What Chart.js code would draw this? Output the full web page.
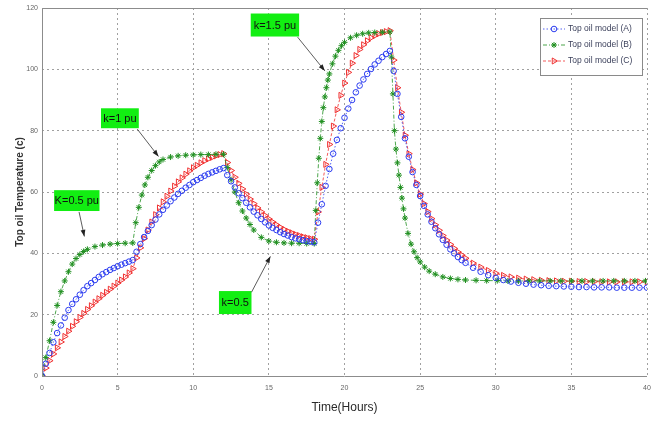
<!DOCTYPE html>
<html>
<head>
<meta charset="utf-8">
<script src="https://cdn.jsdelivr.net/npm/chart.js@4.4.1/dist/chart.umd.min.js"></script>
<style>
  html, body { margin: 0; padding: 0; background: #ffffff; }
  #wrap { width: 652px; height: 421px; }
</style>
</head>
<body>
<div id="wrap"><canvas id="oilChart" width="652" height="421"></canvas></div>
<script>
// time axis shared by model A and model C (hours)
const timeAC = [
  0, 0.25, 0.5, 0.75, 1, 1.25, 1.5, 1.75, 2, 2.25, 2.5, 2.75, 3, 3.25, 3.5, 3.75, 4, 4.25, 4.5, 4.75, 5, 5.25, 5.5, 5.75, 6,
  6.25, 6.5, 6.75, 7, 7.25, 7.5, 7.75, 8, 8.25, 8.5, 8.75, 9, 9.25, 9.5, 9.75, 10, 10.25, 10.5, 10.75, 11, 11.25, 11.5, 11.75, 12,
  12.25, 12.5, 12.75, 13, 13.25, 13.5, 13.75, 14, 14.25, 14.5, 14.75, 15, 15.25, 15.5, 15.75, 16, 16.25, 16.5, 16.75, 17, 17.25, 17.5, 17.75, 18,
  18.25, 18.5, 18.75, 19, 19.25, 19.5, 19.75, 20, 20.25, 20.5, 20.75, 21, 21.25, 21.5, 21.75, 22, 22.25, 22.5, 22.75, 23,
  23.25, 23.5, 23.75, 24, 24.25, 24.5, 24.75, 25, 25.25, 25.5, 25.75, 26, 26.25, 26.5, 26.75, 27, 27.25, 27.5, 27.75, 28,
  28.5, 29, 29.5, 30, 30.5, 31, 31.5, 32, 32.5, 33, 33.5, 34, 34.5, 35, 35.5, 36, 36.5, 37, 37.5, 38, 38.5, 39, 39.5, 40,
];

const tempA = [
  0, 4, 7.5, 11, 14, 16.5, 19, 21.5, 23.5, 25, 26.5, 28, 29.3, 30.3, 31.3, 32.3, 33.2, 33.9, 34.6, 35.2, 35.8, 36.3, 36.8, 37.3, 37.8,
  40.5, 43, 45.3, 47.3, 49.2, 51, 52.7, 54.2, 55.6, 57, 58.2, 59.4, 60.4, 61.4, 62.3, 63.2, 63.9, 64.6, 65.3, 65.9, 66.4, 66.9, 67.4, 67.8,
  65.5, 63.5, 61.5, 59.6, 58, 56.5, 55, 53.6, 52.4, 51.2, 50.1, 49.1, 48.3, 47.6, 46.9, 46.3, 45.8, 45.3, 44.9, 44.6, 44.3, 44, 43.8, 43.6,
  50, 56, 62, 67.5, 72.5, 77, 80.8, 84.2, 87.2, 90, 92.5, 94.7, 96.7, 98.5, 100.1, 101.6, 102.8, 104, 105, 106,
  99.5, 92, 84.5, 77.5, 71.5, 66.5, 62.3, 58.7, 55.5, 52.7, 50.3, 48.2, 46.2, 44.4, 42.8, 41.3, 40, 38.8, 37.8, 36.9,
  35.3, 34, 32.9, 32, 31.3, 30.8, 30.4, 30.1, 29.8, 29.6, 29.4, 29.3, 29.2, 29.1, 29, 29, 28.9, 28.9, 28.9, 28.8, 28.8, 28.8, 28.8, 28.8,
];

const tempC = [
  0, 2.6, 5, 7.2, 9.2, 11.1, 12.9, 14.6, 16.2, 17.7, 19.1, 20.4, 21.7, 22.9, 24.1, 25.2, 26.3, 27.3, 28.3, 29.3, 30.3, 31.3, 32.3, 33.6, 35,
  38.5, 41.8, 44.8, 47.6, 50.2, 52.6, 54.8, 56.8, 58.6, 60.3, 61.9, 63.3, 64.6, 65.8, 66.9, 67.9, 68.7, 69.5, 70.2, 70.8, 71.3, 71.8, 72.2, 72.5,
  69.6, 67, 64.8, 62.8, 61, 59.3, 57.7, 56.2, 54.8, 53.5, 52.3, 51.2, 50.2, 49.3, 48.5, 47.8, 47.2, 46.7, 46.2, 45.8, 45.4, 45.1, 44.8, 44.6,
  53.5, 61.5, 69, 75.5, 81.5, 86.8, 91.5, 95.5, 99, 102, 104.5, 106.5, 108, 109.3, 110.3, 111, 111.6, 112, 112.3, 112.6,
  103, 94, 86, 78.5, 72.5, 67.3, 63, 59.3, 56.2, 53.6, 51.3, 49.3, 47.5, 45.8, 44.3, 42.9, 41.6, 40.4, 39.4, 38.4,
  36.8, 35.5, 34.4, 33.5, 32.8, 32.3, 31.9, 31.6, 31.4, 31.2, 31.1, 31, 30.9, 30.9, 30.8, 30.8, 30.8, 30.7, 30.7, 30.7, 30.7, 30.7, 30.7, 30.7,
];

// model B has its own (uneven) time steps
const timeB = [
  0, 0.25, 0.5, 0.75, 1, 1.25, 1.5, 1.75, 2, 2.25, 2.5, 2.75, 3, 3.5, 4, 4.5, 5, 5.5, 6,
  6.2, 6.4, 6.6, 6.8, 7, 7.25, 7.5, 7.75, 8, 8.5, 9, 9.5, 10, 10.5, 11, 11.5, 12,
  12.25, 12.5, 12.75, 13, 13.25, 13.5, 13.75, 14, 14.5, 15, 15.5, 16, 16.5, 17, 17.5, 18,
  18.1, 18.2, 18.3, 18.4, 18.5, 18.6, 18.7, 18.8, 18.9, 19, 19.2, 19.4, 19.6, 19.8, 20, 20.4, 20.8, 21.2, 21.6, 22, 22.5, 23,
  23.1, 23.2, 23.3, 23.4, 23.5, 23.6, 23.7, 23.8, 23.9, 24, 24.2, 24.4, 24.6, 24.8, 25, 25.3, 25.6, 26, 26.5, 27, 27.5, 28,
  28.7, 29.4, 30.1, 30.8, 31.5, 32.2, 32.9, 33.6, 34.3, 35, 35.7, 36.4, 37.1, 37.8, 38.5, 39.2, 39.9,
];

const tempB = [
  0, 6, 11.5, 17.5, 23, 27.5, 31, 34, 36.5, 38.3, 39.6, 40.6, 41.3, 42.2, 42.7, 43, 43.2, 43.3, 43.4,
  50, 55, 59, 62.3, 64.8, 67, 68.6, 69.8, 70.6, 71.4, 71.8, 72, 72.1, 72.2, 72.2, 72.3, 72.3,
  68, 64, 60, 56.5, 53.8, 51.5, 49.4, 47.6, 45.2, 44, 43.6, 43.4, 43.3, 43.3, 43.2, 43.2,
  54, 63, 71, 77.5, 83, 87.5, 91, 94, 96.5, 98.5, 101.8, 104.3, 106.2, 107.7, 108.8, 110.3, 111.1, 111.6, 111.9, 112, 112.1, 112.2,
  104, 92, 80, 74, 69.5, 65.5, 61.5, 58, 54.5, 51.5, 46.5, 43, 40.5, 38.6, 37.2, 35.5, 34.2, 33.2, 32.3, 31.8, 31.5, 31.3,
  31.2, 31.1, 31.1, 31, 31, 31, 31, 31, 31, 31, 31, 31, 31, 31, 31, 31, 31,
];

const seriesNames = ["Top oil model (A)", "Top oil model (B)", "Top oil model (C)"];
const xTicks = [0, 5, 10, 15, 20, 25, 30, 35, 40];
const yTicks = [0, 20, 40, 60, 80, 100, 120];

// callout boxes: box = [t1, v1, t2, v2], arrow from -> to, all in data units
const notes = [
  { text: "K=0.5 pu", box: [0.8, 60.6, 3.8, 53.8], from: [2.45, 53.5], to: [2.8, 45.5] },
  { text: "k=1 pu", box: [3.9, 87.3, 6.4, 80.8], from: [6.3, 80.5], to: [7.7, 71.6] },
  { text: "k=0.5", box: [11.7, 27.7, 13.85, 20.2], from: [13.85, 27.3], to: [15.1, 39] },
  { text: "k=1.5 pu", box: [13.8, 118.2, 17.0, 110.7], from: [16.9, 110.5], to: [18.7, 99.5] },
];

const styles = [
  { color: "#2b3cf0", point: "circle", radius: 2.8, rotation: 0, dash: [1.5, 2] },
  { color: "#1f8f1f", point: "star", radius: 3, rotation: 0, dash: [4, 2, 1, 2] },
  { color: "#f03030", point: "triangle", radius: 3.5, rotation: 90, dash: [3, 2] },
];

function toPoints(times, temps) {
  return times.map((t, i) => ({ x: t, y: temps[i] }));
}

function makeDataset(label, points, st) {
  return {
    label,
    data: points,
    borderColor: st.color,
    backgroundColor: "rgba(0,0,0,0)",
    borderWidth: 0.8,
    borderDash: st.dash,
    pointStyle: st.point,
    pointRadius: st.radius,
    pointRotation: st.rotation,
    pointBorderColor: st.color,
    pointBackgroundColor: "rgba(0,0,0,0)",
    pointBorderWidth: 1,
    tension: 0,
  };
}

function drawArrow(ctx, x1, y1, x2, y2) {
  const ang = Math.atan2(y2 - y1, x2 - x1);
  ctx.strokeStyle = "#333";
  ctx.fillStyle = "#222";
  ctx.lineWidth = 0.8;
  ctx.beginPath();
  ctx.moveTo(x1, y1);
  ctx.lineTo(x2, y2);
  ctx.stroke();
  ctx.beginPath();
  ctx.moveTo(x2, y2);
  ctx.lineTo(x2 - 7 * Math.cos(ang - 0.35), y2 - 7 * Math.sin(ang - 0.35));
  ctx.lineTo(x2 - 7 * Math.cos(ang + 0.35), y2 - 7 * Math.sin(ang + 0.35));
  ctx.closePath();
  ctx.fill();
}

function drawNote(chart, note) {
  const { ctx, scales: { x, y } } = chart;
  const bx1 = x.getPixelForValue(note.box[0]);
  const by1 = y.getPixelForValue(note.box[1]);
  const bx2 = x.getPixelForValue(note.box[2]);
  const by2 = y.getPixelForValue(note.box[3]);
  ctx.fillStyle = "#12ee12";
  ctx.fillRect(bx1, by1, bx2 - bx1, by2 - by1);
  ctx.fillStyle = "#101010";
  ctx.font = "11px 'Liberation Sans', Arial, sans-serif";
  ctx.textAlign = "center";
  ctx.textBaseline = "middle";
  ctx.fillText(note.text, (bx1 + bx2) / 2, (by1 + by2) / 2 + 0.5);
  drawArrow(ctx,
    x.getPixelForValue(note.from[0]), y.getPixelForValue(note.from[1]),
    x.getPixelForValue(note.to[0]), y.getPixelForValue(note.to[1]));
}

function drawLegend(chart) {
  const { ctx } = chart;
  const left = 540, top = 18, w = 102, h = 57;
  ctx.fillStyle = "#ffffff";
  ctx.fillRect(left, top, w, h);
  ctx.strokeStyle = "#8a8a8a";
  ctx.lineWidth = 1;
  ctx.setLineDash([]);
  ctx.strokeRect(left + 0.5, top + 0.5, w, h);
  chart.data.datasets.forEach((ds, i) => {
    const st = styles[i];
    const cy = top + 11 + i * 16;
    ctx.strokeStyle = st.color;
    ctx.lineWidth = 0.8;
    ctx.setLineDash(st.dash);
    ctx.beginPath();
    ctx.moveTo(left + 3, cy);
    ctx.lineTo(left + 25, cy);
    ctx.stroke();
    ctx.setLineDash([]);
    // open marker: no fill, coloured outline
    ctx.fillStyle = "rgba(0,0,0,0)";
    ctx.strokeStyle = st.color;
    ctx.lineWidth = 1;
    Chart.helpers.drawPoint(ctx, {
      pointStyle: st.point, radius: st.radius, rotation: st.rotation, borderWidth: 1,
    }, left + 14, cy);
    ctx.fillStyle = "#3a3f5a";
    ctx.font = "8.5px 'Liberation Sans', Arial, sans-serif";
    ctx.textAlign = "left";
    ctx.textBaseline = "middle";
    ctx.fillText(ds.label, left + 28, cy);
  });
}

const overlay = {
  id: "overlay",
  afterDraw(chart) {
    const { ctx, chartArea: a } = chart;
    ctx.save();
    ctx.strokeStyle = "#8c8c8c";
    ctx.lineWidth = 1;
    ctx.beginPath();
    ctx.moveTo(a.left + 0.5, a.bottom + 0.5);
    ctx.lineTo(a.left + 0.5, a.top + 0.5);
    ctx.lineTo(a.right, a.top + 0.5);
    ctx.moveTo(a.left, a.bottom + 0.5);
    ctx.lineTo(a.right, a.bottom + 0.5);
    ctx.stroke();

    notes.forEach((n) => drawNote(chart, n));
    drawLegend(chart);

    ctx.fillStyle = "#2a2a2a";
    ctx.font = "12px 'Liberation Sans', Arial, sans-serif";
    ctx.textAlign = "center";
    ctx.textBaseline = "middle";
    ctx.fillText("Time(Hours)", (a.left + a.right) / 2, 408);

    ctx.translate(20, (a.top + a.bottom) / 2);
    ctx.rotate(-Math.PI / 2);
    ctx.font = "bold 10px 'Liberation Sans', Arial, sans-serif";
    ctx.fillStyle = "#333333";
    ctx.fillText("Top oil Temperature (c)", 0, 0);
    ctx.restore();
  },
};

function buildChart() {
  const ctx = document.getElementById("oilChart");
  const datasets = [
    makeDataset(seriesNames[0], toPoints(timeAC, tempA), styles[0]),
    makeDataset(seriesNames[1], toPoints(timeB, tempB), styles[1]),
    makeDataset(seriesNames[2], toPoints(timeAC, tempC), styles[2]),
  ];
  return new Chart(ctx, {
    type: "line",
    data: { datasets },
    plugins: [overlay],
    options: {
      responsive: false,
      animation: false,
      devicePixelRatio: 1,
      layout: { padding: { top: 8, right: 0, bottom: 0, left: 0 } },
      plugins: { legend: { display: false }, tooltip: { enabled: false } },
      scales: {
        x: {
          type: "linear",
          min: 0,
          max: 40,
          afterBuildTicks(scale) {
            scale.ticks = xTicks.map((v) => ({ value: v }));
          },
          afterFit(scale) {
            scale.height = 45;
            scale.paddingLeft = 0;
            scale.paddingRight = 0;
          },
          ticks: { color: "#666", font: { size: 7 }, padding: 8, maxRotation: 0 },
          grid: { color: "#a0a0a0", lineWidth: 1, drawTicks: false },
          border: { display: false, dash: [2, 3] },
        },
        y: {
          min: 0,
          max: 120,
          afterBuildTicks(scale) {
            scale.ticks = yTicks.map((v) => ({ value: v }));
          },
          afterFit(scale) {
            scale.width = 42;
            scale.paddingTop = 0;
            scale.paddingBottom = 0;
          },
          ticks: { color: "#666", font: { size: 7 }, padding: 4 },
          grid: { color: "#a0a0a0", lineWidth: 1, drawTicks: false },
          border: { display: false, dash: [2, 3] },
        },
      },
    },
  });
}

buildChart();
</script>
</body>
</html>
